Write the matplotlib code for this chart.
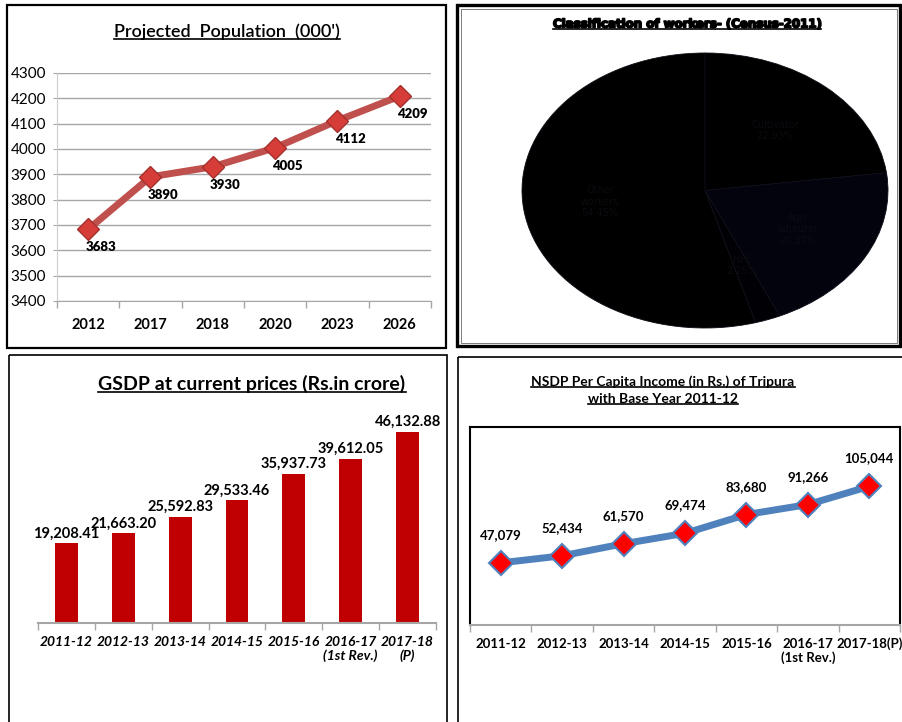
import matplotlib
matplotlib.use("Agg")
import matplotlib.pyplot as plt
import matplotlib.patheffects as pe
from matplotlib.lines import Line2D
from matplotlib.patches import Rectangle

W, H = 902, 722

# data
pop_years = ["2012", "2017", "2018", "2020", "2023", "2026"]
pop_values = [3683, 3890, 3930, 4005, 4112, 4209]

worker_groups = ["Cultivator", "Agri\nlabourer", "HHI", "Other\nworkers"]
worker_share = [22.93, 20.37, 2.25, 54.45]

gsdp_years = ["2011-12", "2012-13", "2013-14", "2014-15", "2015-16",
              "2016-17\n(1st Rev.)", "2017-18\n(P)"]
gsdp_values = [19208.41, 21663.20, 25592.83, 29533.46, 35937.73, 39612.05, 46132.88]

nsdp_years = ["2011-12", "2012-13", "2013-14", "2014-15", "2015-16",
              "2016-17\n(1st Rev.)", "2017-18(P)"]
nsdp_values = [47079, 52434, 61570, 69474, 83680, 91266, 105044]

cal = ["Lato", "DejaVu Sans"]


def rect(l, t, r, b):
    # pixel box -> figure fraction
    return [l / W, 1 - b / H, (r - l) / W, (b - t) / H]


def cat_axis(ax, n, labels, tick_color, **font):
    ax.set_xlim(-0.5, n - 0.5)
    ax.set_xticks([i - 0.5 for i in range(n + 1)])
    ax.set_xticklabels([])
    ax.set_xticks(list(range(n)), minor=True)
    ax.set_xticklabels(labels, minor=True, **font)
    ax.tick_params(axis="x", which="major", length=5, color=tick_color, width=1)
    ax.tick_params(axis="x", which="minor", length=0, pad=9)


fig = plt.figure(figsize=(W / 100, H / 100), dpi=100)

# panel borders
bg = fig.add_axes([0, 0, 1, 1])
bg.set_xlim(0, W)
bg.set_ylim(H, 0)
bg.axis("off")
for l, t, r, b, lw in [(7, 5, 446, 348, 1.6), (457, 5, 900, 346, 2.4),
                       (9, 355, 447, 740, 1.2), (458, 357, 910, 740, 1.2)]:
    bg.add_patch(Rectangle((l, t), r - l, b - t, fill=False, lw=lw, ec="black"))
bg.add_patch(Rectangle((460.5, 8.5), 436, 334, fill=False, lw=0.6, ec="#666666"))

titles = []

# ---- Projected population ----
ax1 = fig.add_axes(rect(57, 73, 431, 301))
xs = range(len(pop_values))
ax1.plot(xs, pop_values, color="#c0504d", lw=5, marker="D", ms=11,
         mfc="#d63c38", mec="#a3302c", mew=1, zorder=3)
ax1.set_ylim(3400, 4300)
ax1.set_yticks(range(3400, 4301, 100))
ax1.yaxis.grid(True, color="#a6a6a6", lw=1)
ax1.set_axisbelow(True)
cat_axis(ax1, len(pop_years), pop_years, "#a6a6a6", fontweight="bold",
         family=cal, fontsize=10.5)
ax1.tick_params(axis="x", which="minor", pad=12)
ax1.tick_params(axis="y", length=3, color="#a6a6a6", labelsize=11, pad=5)
for lab in ax1.get_yticklabels():
    lab.set_family(cal)
for s in ["top", "right"]:
    ax1.spines[s].set_visible(False)
ax1.spines["left"].set_color("#cccccc")
ax1.spines["bottom"].set_color("#a6a6a6")
for xi, v in zip(xs, pop_values):
    ax1.annotate(str(v), (xi, v), xytext=(9, -13), textcoords="offset points",
                 ha="center", va="center", fontweight="heavy", fontsize=9.5, family=cal)
titles.append(fig.text(227 / W, 1 - 32 / H, "Projected  Population  (000')",
                       ha="center", va="center", fontsize=13, fontweight="semibold",
                       family=cal))

# ---- Classification of workers ----
ax2 = fig.add_axes(rect(522, 53, 888, 328))
labels = [f"{g}\n{p:.2f}%" for g, p in zip(worker_groups, worker_share)]
wedges, texts = ax2.pie(worker_share, labels=labels, startangle=90, counterclock=False,
                        colors=["#000000", "#03030e", "#010105", "#000000"],
                        labeldistance=0.58,
                        wedgeprops=dict(edgecolor="#0d0d18", linewidth=0.6),
                        textprops=dict(color="#0b0b10", fontsize=7, ha="center"))
ax2.set_aspect("auto")
ax2.set_xlim(-1, 1)
ax2.set_ylim(-1, 1)
t = fig.text(687 / W, 1 - 24 / H, "Classification of workers- (Census-2011)",
             ha="center", va="center", fontsize=8.5, fontweight="bold")
t.set_path_effects([pe.withStroke(linewidth=1.2, foreground="black")])
titles.append(t)

# ---- GSDP bars ----
ax3 = fig.add_axes(rect(38, 399, 436, 623))
xs = range(len(gsdp_values))
ax3.bar(xs, gsdp_values, width=0.4, color="#c00000")
ax3.set_ylim(0, 54000)
ax3.set_yticks([])
cat_axis(ax3, len(gsdp_years), gsdp_years, "#a6a6a6", fontweight="bold",
         style="italic", family=cal, fontsize=10)
for s in ["top", "right", "left"]:
    ax3.spines[s].set_visible(False)
ax3.spines["bottom"].set_color("#a6a6a6")
ax3.spines["bottom"].set_linewidth(1.5)
for xi, v in zip(xs, gsdp_values):
    ax3.annotate(f"{v:,.2f}", (xi, v), xytext=(0, 2), textcoords="offset points",
                 ha="center", va="bottom", fontweight="bold", fontsize=10.5, family=cal)
titles.append(fig.text(252 / W, 1 - 384 / H, "GSDP at current prices (Rs.in crore)",
                       ha="center", va="center", fontsize=14, fontweight="bold", family=cal))

# ---- NSDP per capita ----
ax4 = fig.add_axes(rect(470, 427, 900, 625))
xs = range(len(nsdp_values))
ax4.plot(xs, nsdp_values, color="#4f81bd", lw=5, marker="D", ms=12,
         mfc="#ff0000", mec="#4f81bd", mew=1.5, zorder=3)
ax4.set_ylim(0, 150000)
ax4.set_yticks([])
cat_axis(ax4, len(nsdp_years), nsdp_years, "#a6a6a6", fontweight="bold",
         family=cal, fontsize=9.5)
for s in ["top", "right", "left"]:
    ax4.spines[s].set_color("black")
    ax4.spines[s].set_linewidth(1.5)
ax4.spines["bottom"].set_color("#a6a6a6")
ax4.spines["bottom"].set_linewidth(1.5)
for xi, v in zip(xs, nsdp_values):
    ax4.annotate(f"{v:,}", (xi, v), xytext=(0, 20), textcoords="offset points",
                 ha="center", va="center", fontweight="bold", fontsize=9.5, family=cal)
titles.append(fig.text(663 / W, 1 - 382 / H, "NSDP Per Capita Income (in Rs.) of Tripura",
                       ha="center", va="center", fontsize=10, fontweight="bold", family=cal))
titles.append(fig.text(663 / W, 1 - 399 / H, "with Base Year 2011-12",
                       ha="center", va="center", fontsize=10, fontweight="bold", family=cal))

# underline the titles
fig.canvas.draw()
renderer = fig.canvas.get_renderer()
for t in titles:
    bb = t.get_window_extent(renderer)
    y = (bb.y0 + 1.5) / H
    fig.add_artist(Line2D([bb.x0 / W, bb.x1 / W], [y, y], transform=fig.transFigure,
                          color="black", lw=1.2))

fig.savefig("out.png", dpi=100)
